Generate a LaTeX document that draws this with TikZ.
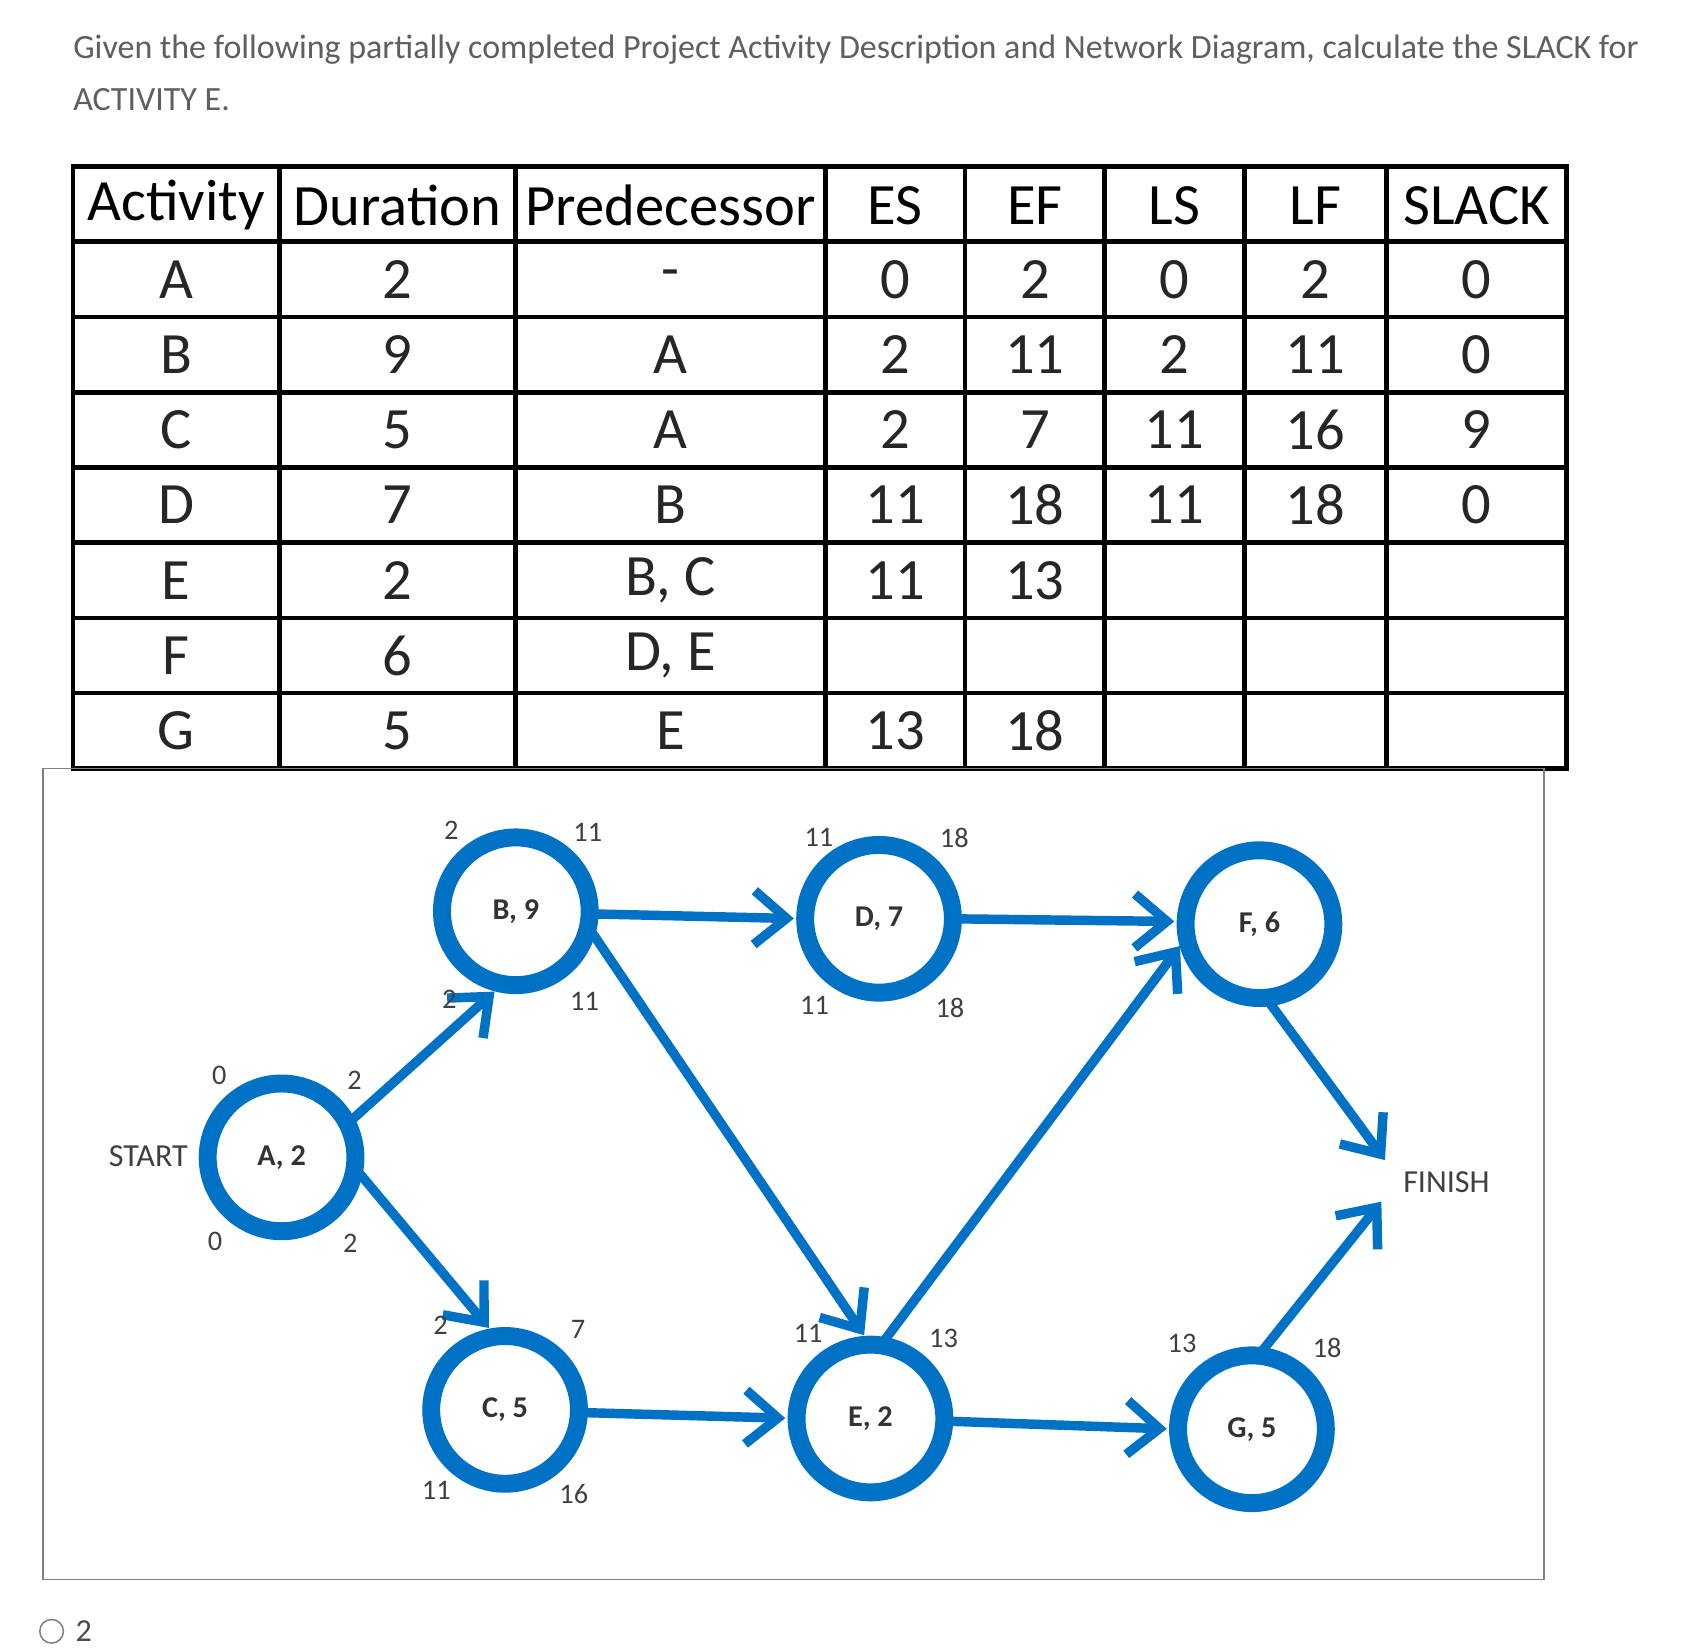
\documentclass[tikz,border=0pt]{standalone}
\usepackage{fontspec}
\setmainfont{Carlito}
\usetikzlibrary{arrows.meta}
\definecolor{nblue}{RGB}{0,114,198}
\definecolor{gtext}{RGB}{95,95,95}
\begin{document}
\begin{tikzpicture}[x=0.02cm,y=-0.02cm,
  act/.style={circle,draw=nblue,line width=9.5pt,minimum size=2.75cm,inner sep=0pt,outer sep=0pt,font=\fontsize{16}{18}\selectfont\bfseries,text=black!80},
  conn/.style={draw=nblue,line width=5pt,-{Straight Barb[length=0.6cm,width=1.0cm,line width=5pt]},shorten >=6pt,shorten <=-2pt},
  num/.style={font=\fontsize{15}{17}\selectfont,text=black!75},
  cell/.style={font=\fontsize{31}{34}\selectfont,text=black!85},
  hdr/.style={font=\fontsize{31}{34}\selectfont,text=black}]
\useasboundingbox[fill=white] (0,0) rectangle (1568,1533);
\node[anchor=west,text=gtext,font=\fontsize{18}{21}\selectfont] (t1) at (62,46) {Given the following partially completed Project Activity Description and Network Diagram, calculate the SLACK for};
\node[anchor=west,text=gtext,font=\fontsize{18}{21}\selectfont] (t2) at (62,93) {ACTIVITY E.};
% table
\def\xs{{68,260,480,768,898,1028,1158,1290,1458}}
\foreach \y in {155,225,295,365,435,505,575,645,715} \draw[line width=2.5pt] (66,\y) -- (1460,\y);
\foreach \x in {68,260,480,768,898,1028,1158,1290,1458} \draw[line width=2.5pt] (\x,155) -- (\x,715);
\foreach \t [count=\i] in {Activity,Duration,Predecessor,ES,EF,LS,LF,SLACK}{
  \pgfmathsetmacro\xa{\xs[\i-1]}\pgfmathsetmacro\xb{\xs[\i]}
  \node[hdr] (h\i) at ({(\xa+\xb)/2},191) {\t};}
\foreach \r/\row [count=\j] in {
 1/{A,2,-,0,2,0,2,0},2/{B,9,A,2,11,2,11,0},3/{C,5,A,2,7,11,16,9},4/{D,7,B,11,18,11,18,0},
 5/{E,2,{B, C},11,13,,,},6/{F,6,{D, E},,,,,},7/{G,5,E,13,18,,,}}{
  \foreach \t [count=\i] in \row {
   \pgfmathsetmacro\xa{\xs[\i-1]}\pgfmathsetmacro\xb{\xs[\i]}
   \node[cell] (c\r\i) at ({(\xa+\xb)/2},{190+70*\r}) {\t};}}
% diagram box
\draw[gray,line width=0.8pt] (40,715) rectangle (1437,1470);
\node[act] (A) at (262,1077) {A, 2};
\node[act] (B) at (480,848) {B, 9};
\node[act] (D) at (818,855) {D, 7};
\node[act] (F) at (1172,860) {F, 6};
\node[act] (C) at (470,1312) {C, 5};
\node[act] (E) at (810,1320) {E, 2};
\node[act] (G) at (1165,1330) {G, 5};
\node[font=\fontsize{17}{19}\selectfont,text=black!75] (start) at (138,1076) {START};
\node[font=\fontsize{17}{19}\selectfont,text=black!75] (fin) at (1346,1100) {FINISH};
\coordinate (f1) at (1295,1088);
\coordinate (f2) at (1292,1110);
\draw[conn] (A.27) -- (B.-100);
\draw[conn] (A.-8) -- (C.97);
\draw[conn] (B.-2) -- (D.180);
\draw[conn] (B.-12) -- (E.90);
\draw[conn] (C.-2) -- (E.180);
\draw[conn] (E.82) -- (F.-170);
\draw[conn] (D.0) -- (F.178);
\draw[conn] (E.-2) -- (G.180);
\draw[conn] (F.-85) -- (f1);
\draw[conn] (G.85) -- (f2);
\foreach \t/\x/\y [count=\k] in {2/420/773,11/547/775,2/418/930,11/544/932,
 11/762/779,18/888/780,11/758/936,18/884/938,
 0/204/1001,2/330/1005,0/200/1155,2/326/1157,
 2/410/1233,7/538/1237,11/406/1387,16/534/1390,
 11/752/1241,13/878/1245,13/1100/1250,18/1235/1254}
 \node[num] (n\k) at (\x,\y) {\t};
% answer option
\draw[gray,line width=0.8pt] (48,1518) circle (11);
\node[font=\fontsize{17}{19}\selectfont,text=black!70] (opt) at (78,1518) {2};
\end{tikzpicture}
\end{document}
